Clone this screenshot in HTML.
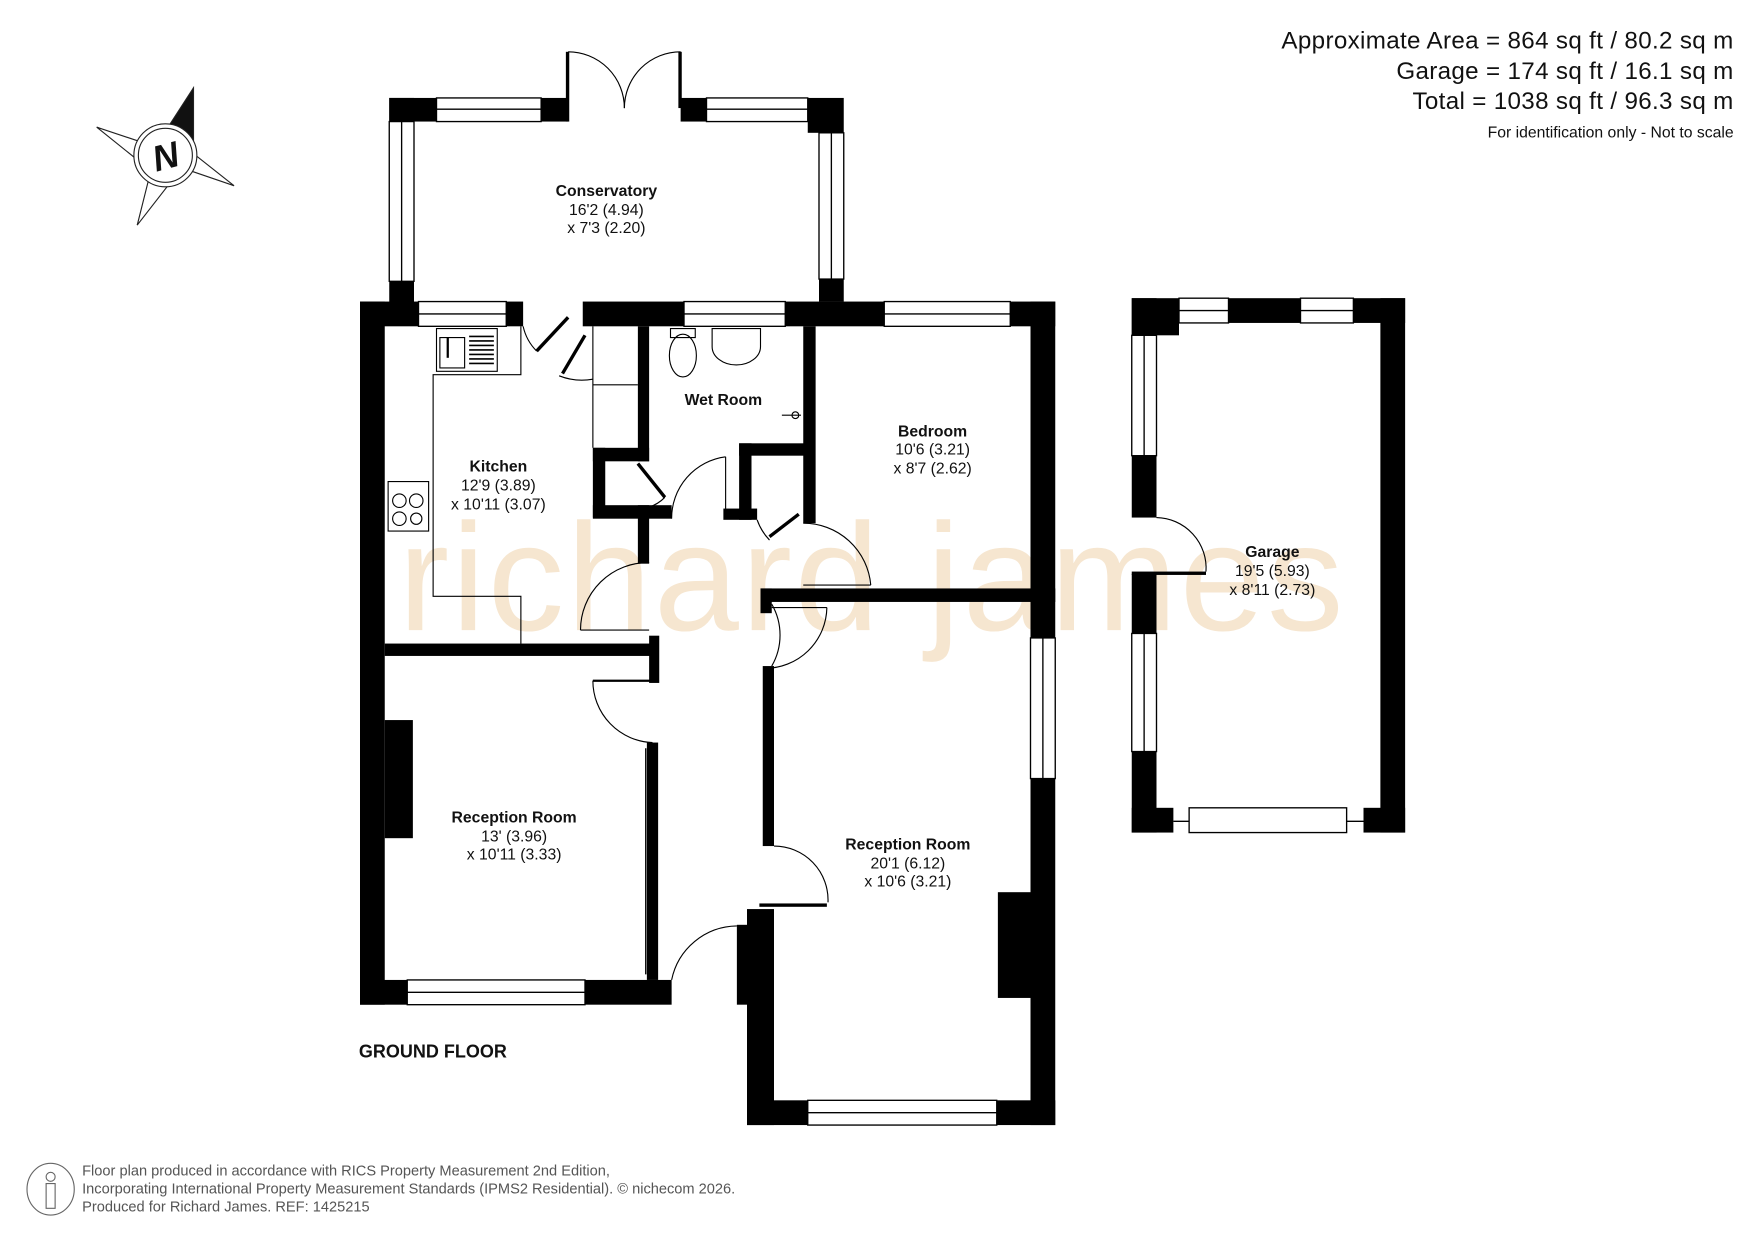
<!DOCTYPE html>
<html><head><meta charset="utf-8"><style>
html,body{margin:0;padding:0;background:#fff;}
svg{display:block;}
text{font-family:"Liberation Sans",Arial,sans-serif;}
</style></head><body>
<svg width="1755" height="1241" viewBox="0 0 1560 1103" xmlns="http://www.w3.org/2000/svg">
<rect width="1560" height="1103" fill="#fff"/>
<!-- watermark -->
<text x="354" y="560" font-size="136" fill="#f6e6d0" letter-spacing="2">richard james</text>

<!-- header -->
<g font-size="21.5" text-anchor="end" fill="#111">
<text x="1541" y="43" letter-spacing="0.3">Approximate Area = 864 sq ft / 80.2 sq m</text>
<text x="1541" y="70" letter-spacing="0.3">Garage = 174 sq ft / 16.1 sq m</text>
<text x="1541" y="97" letter-spacing="0.3">Total = 1038 sq ft / 96.3 sq m</text>
<text x="1541" y="122" font-size="14">For identification only - Not to scale</text>
</g>

<!-- compass -->
<g stroke="#222" stroke-width="1" fill="#fff">
<polygon points="172,78 147,138 86,113 147,138 122,200 147,138 208,165 147,138"/>
<polygon points="86,113 125,126 147,138 132,150" />
<polygon points="208,165 170,152 147,138 160,127" />
<polygon points="122,200 132,160 147,138 157,155" />
<polygon points="172,78 172,125 147,138 150,112" fill="#111"/>
<circle cx="147" cy="138" r="28"/>
<circle cx="147" cy="138" r="24"/>
</g>
<text x="147" y="150" font-size="32" font-weight="bold" font-style="italic" text-anchor="middle" fill="#111" transform="rotate(-15 147 138)">N</text>

<g fill="#000">
<rect x="346" y="87" width="42" height="21"/>
<rect x="481" y="87" width="24" height="21"/>
<rect x="605" y="87" width="23" height="21"/>
<rect x="718" y="87" width="32" height="31"/>
<rect x="346" y="87" width="22" height="21"/>
<rect x="346" y="250" width="22" height="20"/>
<rect x="728" y="248" width="22" height="20"/>
<rect x="503" y="46" width="3" height="62"/>
<rect x="603" y="46" width="3" height="50"/>
<rect x="320" y="268" width="52" height="22"/>
<rect x="450" y="268" width="15" height="22"/>
<rect x="518" y="268" width="90" height="22"/>
<rect x="698" y="268" width="88" height="22"/>
<rect x="898" y="268" width="40" height="22"/>
<rect x="320" y="268" width="22" height="625"/>
<rect x="342" y="640" width="25" height="105"/>
<rect x="320" y="871" width="42" height="22"/>
<rect x="520" y="871" width="77" height="22"/>
<rect x="342" y="572" width="243" height="11"/>
<rect x="577" y="565" width="9" height="42"/>
<rect x="575" y="660" width="10" height="211"/>
<rect x="567" y="290" width="10" height="120"/>
<rect x="527" y="398" width="50" height="12"/>
<rect x="527" y="398" width="11" height="62"/>
<rect x="527" y="449" width="70" height="12"/>
<rect x="567" y="449" width="10" height="52"/>
<rect x="657" y="394" width="60" height="11"/>
<rect x="657" y="394" width="11" height="68"/>
<rect x="643" y="452" width="30" height="10"/>
<rect x="714" y="290" width="11" height="175"/>
<rect x="676" y="523" width="262" height="12"/>
<rect x="676" y="523" width="10" height="22"/>
<rect x="916" y="268" width="22" height="299"/>
<rect x="916" y="692" width="22" height="308"/>
<rect x="887" y="793" width="30" height="94"/>
<rect x="678" y="592" width="10" height="160"/>
<rect x="675" y="803" width="60" height="3"/>
<rect x="664" y="808" width="24" height="192"/>
<rect x="655" y="822" width="12" height="71"/>
<rect x="664" y="978" width="54" height="22"/>
<rect x="886" y="978" width="52" height="22"/>
<rect x="1006" y="265" width="42" height="33"/>
<rect x="1092" y="265" width="64" height="22"/>
<rect x="1203" y="265" width="46" height="22"/>
<rect x="1227" y="265" width="22" height="475"/>
<rect x="1006" y="265" width="22" height="33"/>
<rect x="1006" y="405" width="22" height="55"/>
<rect x="1006" y="510" width="22" height="53"/>
<rect x="1006" y="668" width="22" height="72"/>
<rect x="1006" y="718" width="37" height="22"/>
<rect x="1212" y="718" width="37" height="22"/>
<rect x="1006" y="508" width="66" height="3"/>
</g>

<g fill="#fff" stroke="#000" stroke-width="1.2">
<rect x="388" y="87" width="93" height="21"/><line x1="388" y1="97" x2="481" y2="97"/>
<rect x="628" y="87" width="90" height="21"/><line x1="628" y1="97" x2="718" y2="97"/>
<rect x="346" y="108" width="22" height="142"/><line x1="357" y1="108" x2="357" y2="250"/>
<rect x="728" y="118" width="22" height="130"/><line x1="739" y1="118" x2="739" y2="248"/>
<rect x="372" y="268" width="78" height="22"/><line x1="372" y1="279" x2="450" y2="279"/>
<rect x="608" y="268" width="90" height="22"/><line x1="608" y1="279" x2="698" y2="279"/>
<rect x="786" y="268" width="112" height="22"/><line x1="786" y1="279" x2="898" y2="279"/>
<rect x="916" y="567" width="22" height="125"/><line x1="927" y1="567" x2="927" y2="692"/>
<rect x="362" y="871" width="158" height="22"/><line x1="362" y1="882" x2="520" y2="882"/>
<rect x="718" y="978" width="168" height="22"/><line x1="718" y1="989" x2="886" y2="989"/>
<rect x="1048" y="265" width="44" height="22"/><line x1="1048" y1="276" x2="1092" y2="276"/>
<rect x="1156" y="265" width="47" height="22"/><line x1="1156" y1="276" x2="1203" y2="276"/>
<rect x="1006" y="298" width="22" height="107"/><line x1="1017" y1="298" x2="1017" y2="405"/>
<rect x="1006" y="563" width="22" height="105"/><line x1="1017" y1="563" x2="1017" y2="668"/>
<rect x="1057" y="718" width="140" height="22"/>
<line x1="1043" y1="730" x2="1057" y2="730"/><line x1="1197" y1="730" x2="1212" y2="730"/>
<line x1="574" y1="665" x2="574" y2="866"/>
</g>

<g fill="none" stroke="#000" stroke-width="1">
<path d="M505,46 A50,50 0 0 1 555,96"/>
<path d="M605,46 A50,50 0 0 0 555,96"/>
<path d="M465,290 A45,45 0 0 0 477,312"/>
<line x1="477" y1="312" x2="505" y2="282" stroke-width="3"/>
<path d="M497,334 A55,55 0 0 0 527,337"/>
<line x1="500" y1="332" x2="520" y2="298" stroke-width="3"/>
<line x1="527" y1="290" x2="527" y2="398"/><line x1="527" y1="342" x2="567" y2="342"/>
<path d="M597,461 A55,55 0 0 1 645,406"/><line x1="645" y1="406" x2="645" y2="455"/>
<line x1="567" y1="412" x2="591" y2="442" stroke-width="3"/>
<path d="M591,442 A35,35 0 0 1 560,452"/>
<path d="M673,462 A50,50 0 0 0 684,480"/>
<line x1="684" y1="477" x2="710" y2="457" stroke-width="3"/>
<path d="M714,465 A60,60 0 0 1 774,520"/><line x1="714" y1="520" x2="774" y2="520"/>
<path d="M577,500 A60,60 0 0 0 516,560"/><line x1="516" y1="560" x2="577" y2="560"/>
<path d="M686,537 A55,55 0 0 1 686,592"/><line x1="686" y1="540" x2="735" y2="540"/>
<path d="M735,540 A55,55 0 0 1 680,594"/>
<path d="M527,605 A55,55 0 0 0 580,660"/><line x1="527" y1="605" x2="580" y2="605" stroke-width="2"/>
<path d="M688,752 A48,48 0 0 1 736,802"/>
<path d="M597,871 A60,60 0 0 1 655,823"/>
<path d="M1028,460 A45,45 0 0 1 1072,508"/>
<polyline points="463,290 463,333 385,333 385,530 463,530 463,572"/>
<rect x="388" y="292" width="54" height="38"/><rect x="391" y="300" width="22" height="27"/>
<line x1="398" y1="300" x2="398" y2="318" stroke-width="2"/>
<rect x="345" y="428" width="36" height="44"/>
<circle cx="355" cy="445" r="6"/><circle cx="370" cy="445" r="6"/>
<circle cx="355" cy="461" r="6"/><circle cx="370" cy="461" r="5"/>
<ellipse cx="607" cy="316" rx="12" ry="19"/><rect x="596" y="292" width="22" height="8"/>
<path d="M633,292 L676,292 L676,308 A21,16 0 0 1 633,308 Z"/>
<circle cx="707" cy="369" r="3"/><line x1="695" y1="369" x2="712" y2="369"/>
</g>
<g stroke="#000" stroke-width="1.4">
<line x1="417" y1="299" x2="439" y2="299"/><line x1="417" y1="303" x2="439" y2="303"/>
<line x1="417" y1="307" x2="439" y2="307"/><line x1="417" y1="311" x2="439" y2="311"/>
<line x1="417" y1="315" x2="439" y2="315"/><line x1="417" y1="319" x2="439" y2="319"/>
<line x1="417" y1="323" x2="439" y2="323"/>
</g>

<g font-size="14" text-anchor="middle" fill="#111">
<text x="539" y="174" font-weight="bold">Conservatory</text>
<text x="539" y="191">16'2 (4.94)</text><text x="539" y="207">x 7'3 (2.20)</text>
<text x="643" y="360" font-weight="bold">Wet Room</text>
<text x="443" y="419" font-weight="bold">Kitchen</text>
<text x="443" y="436">12'9 (3.89)</text><text x="443" y="453">x 10'11 (3.07)</text>
<text x="829" y="388" font-weight="bold">Bedroom</text>
<text x="829" y="404">10'6 (3.21)</text><text x="829" y="421">x 8'7 (2.62)</text>
<text x="1131" y="495" font-weight="bold">Garage</text>
<text x="1131" y="512">19'5 (5.93)</text><text x="1131" y="529">x 8'11 (2.73)</text>
<text x="457" y="731" font-weight="bold">Reception Room</text>
<text x="457" y="748">13' (3.96)</text><text x="457" y="764">x 10'11 (3.33)</text>
<text x="807" y="755" font-weight="bold">Reception Room</text>
<text x="807" y="772">20'1 (6.12)</text><text x="807" y="788">x 10'6 (3.21)</text>
</g>
<text x="319" y="940" font-size="16" font-weight="bold" fill="#111">GROUND FLOOR</text>

<ellipse cx="45" cy="1057" rx="21" ry="23" fill="none" stroke="#666" stroke-width="1"/>
<circle cx="45" cy="1046" r="4" fill="none" stroke="#666"/>
<rect x="41" y="1052" width="8" height="22" fill="none" stroke="#666"/>
<g font-size="13" fill="#555">
<text x="73" y="1045">Floor plan produced in accordance with RICS Property Measurement 2nd Edition,</text>
<text x="73" y="1061">Incorporating International Property Measurement Standards (IPMS2 Residential).   © nichecom 2026.</text>
<text x="73" y="1077">Produced for Richard James.   REF:  1425215</text>
</g>
</svg>
</body></html>
